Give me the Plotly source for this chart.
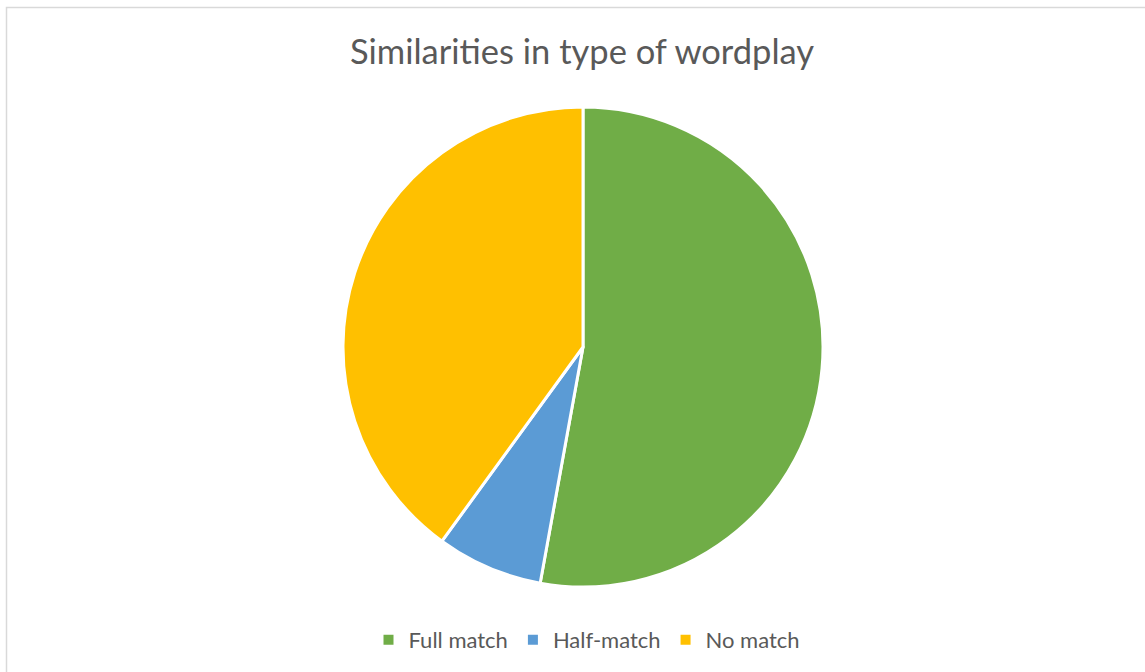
import plotly.graph_objects as go

labels = ["Full match", "Half-match", "No match"]
values = [37, 5, 28]
colors = ["#70AD47", "#5B9BD5", "#FFC000"]

W, H = 1145, 672

fig = go.Figure(go.Pie(
    labels=labels,
    values=values,
    marker=dict(colors=colors, line=dict(color="white", width=3)),
    sort=False,
    direction="clockwise",
    rotation=0,
    textinfo="none",
    hoverinfo="label+value+percent",
    domain=dict(x=[343 / W, 823 / W], y=[1 - 587 / H, 1 - 107 / H]),
))

fig.update_layout(
    width=W, height=H,
    margin=dict(l=0, r=0, t=0, b=0),
    paper_bgcolor="white",
    plot_bgcolor="white",
    font=dict(family="Lato, 'Open Sans', sans-serif", color="#595959"),
    title=dict(
        text="Similarities in type of wordplay",
        x=582 / W, xanchor="center",
        y=1 - 52 / H, yanchor="middle",
        font=dict(size=34.5, color="#595959", family="Lato, 'Open Sans', sans-serif"),
    ),
    showlegend=True,
    legend=dict(
        orientation="h",
        x=587 / W, xanchor="center",
        y=1 - 640 / H, yanchor="middle",
        font=dict(size=22, color="#595959"),
        itemsizing="constant",
        traceorder="normal",
    ),
    shapes=[dict(
        type="rect", xref="paper", yref="paper",
        x0=6.5 / W, x1=1.02, y0=-0.02, y1=1 - 7.5 / H,
        line=dict(color="#D9D9D9", width=1.5),
        fillcolor="rgba(0,0,0,0)",
    )],
)

fig.write_html(
    "out.html",
    config={"displayModeBar": False},
    post_script="document.body.style.margin='0';document.body.style.overflow='hidden';",
)
